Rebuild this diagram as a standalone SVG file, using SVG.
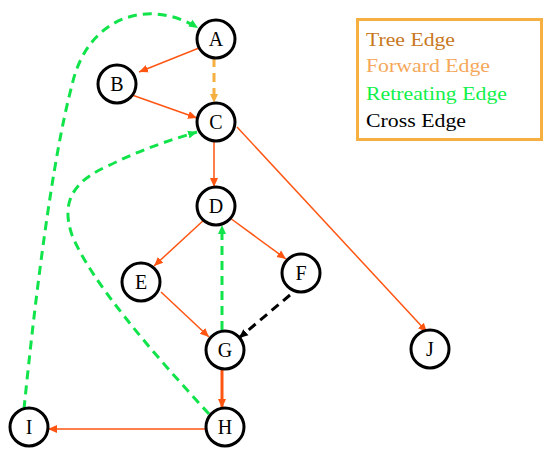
<svg xmlns="http://www.w3.org/2000/svg" width="560" height="466" viewBox="0 0 560 466">
<style>
.node circle{fill:#fff;stroke:#000;stroke-width:3}
.node text{font-family:'Liberation Serif','Times New Roman','DejaVu Serif',serif;font-size:20px;text-anchor:middle;fill:#000}
.tree{fill:none;stroke:#ff5511;stroke-width:1.5}
.fwd{fill:none;stroke:#f5b041;stroke-width:3;stroke-dasharray:9,6}
.ret{fill:none;stroke:#11e34a;stroke-width:3;stroke-dasharray:9,6}
.cross{fill:none;stroke:#000;stroke-width:3;stroke-dasharray:9,6}
.leg{font-family:'Liberation Serif','Times New Roman','DejaVu Serif',serif;font-size:18px}
</style>
<defs>
<marker id="aT" markerUnits="userSpaceOnUse" markerWidth="10" markerHeight="10" refX="9" refY="5" orient="auto"><path d="M0,1 L9,5 L0,9 Z" fill="#ff5511"/></marker>
<marker id="aF" markerUnits="userSpaceOnUse" markerWidth="10" markerHeight="10" refX="9" refY="5" orient="auto"><path d="M0,1 L9,5 L0,9 Z" fill="#f5b041"/></marker>
<marker id="aR" markerUnits="userSpaceOnUse" markerWidth="10" markerHeight="10" refX="9" refY="5" orient="auto"><path d="M0,1 L9,5 L0,9 Z" fill="#11e34a"/></marker>
<marker id="aC" markerUnits="userSpaceOnUse" markerWidth="10" markerHeight="10" refX="9" refY="5" orient="auto"><path d="M0,1 L9,5 L0,9 Z" fill="#000"/></marker>
</defs>
<g id="connectors">
<path class="ret" d="M24,409 C35,300 52,160 72,85 C88,15 150,-2 198,28" marker-end="url(#aR)"/>
<path class="ret" d="M209,414 C150,350 90,280 72,235 C60,200 75,180 110,165 C140,150 170,140 197,132" marker-end="url(#aR)"/>
<path class="tree" d="M199,48 L139,72" marker-end="url(#aT)"/>
<path class="tree" d="M132,95 L197,118" marker-end="url(#aT)"/>
<path class="fwd" d="M214,58 L214,103" marker-end="url(#aF)"/>
<path class="tree" d="M214,141 L214,187" stroke="#ff7040" marker-end="url(#aT)"/>
<path class="tree" d="M237,127 L427,332" marker-end="url(#aT)"/>
<path class="tree" d="M205,219 L154,266" marker-end="url(#aT)"/>
<path class="tree" d="M230,218 L286,259" marker-end="url(#aT)"/>
<path class="tree" d="M161,292 L209,337" marker-end="url(#aT)"/>
<path class="cross" d="M290,295 L239,338" marker-end="url(#aC)"/>
<path class="ret" d="M222,330 L222,225" marker-end="url(#aR)"/>
<path class="tree" d="M222,369 L222,408" style="stroke-width:3" marker-end="url(#aT)"/>
<path class="tree" d="M206,429 L48,429" marker-end="url(#aT)"/>
</g>
<g id="A" class="node"><circle cx="216" cy="39" r="19"/><text x="216" y="46">A</text></g>
<g id="B" class="node"><circle cx="117" cy="84" r="19"/><text x="117" y="91">B</text></g>
<g id="C" class="node"><circle cx="216" cy="122" r="19"/><text x="216" y="129">C</text></g>
<g id="D" class="node"><circle cx="216" cy="206" r="19"/><text x="216" y="213">D</text></g>
<g id="E" class="node"><circle cx="141" cy="282" r="19"/><text x="141" y="289">E</text></g>
<g id="F" class="node"><circle cx="301" cy="273" r="19"/><text x="301" y="280">F</text></g>
<g id="G" class="node"><circle cx="225" cy="350" r="19"/><text x="225" y="357">G</text></g>
<g id="H" class="node"><circle cx="225" cy="427" r="19"/><text x="225" y="434">H</text></g>
<g id="I" class="node"><circle cx="29" cy="427" r="19"/><text x="29" y="434">I</text></g>
<g id="J" class="node"><circle cx="430" cy="349" r="19"/><text x="430" y="356">J</text></g>
<g id="legend">
<rect x="357.5" y="19.5" width="184" height="120" fill="#fff" stroke="#f5b041" stroke-width="3"/>
<text class="leg" x="366" y="46" fill="#c8781e" textLength="89" lengthAdjust="spacingAndGlyphs">Tree Edge</text>
<text class="leg" x="366" y="72" fill="#f5a85a" textLength="124" lengthAdjust="spacingAndGlyphs">Forward Edge</text>
<text class="leg" x="366" y="100" fill="#11f04a" textLength="141" lengthAdjust="spacingAndGlyphs">Retreating Edge</text>
<text class="leg" x="366" y="127" fill="#000" textLength="100" lengthAdjust="spacingAndGlyphs">Cross Edge</text>
</g>
</svg>
